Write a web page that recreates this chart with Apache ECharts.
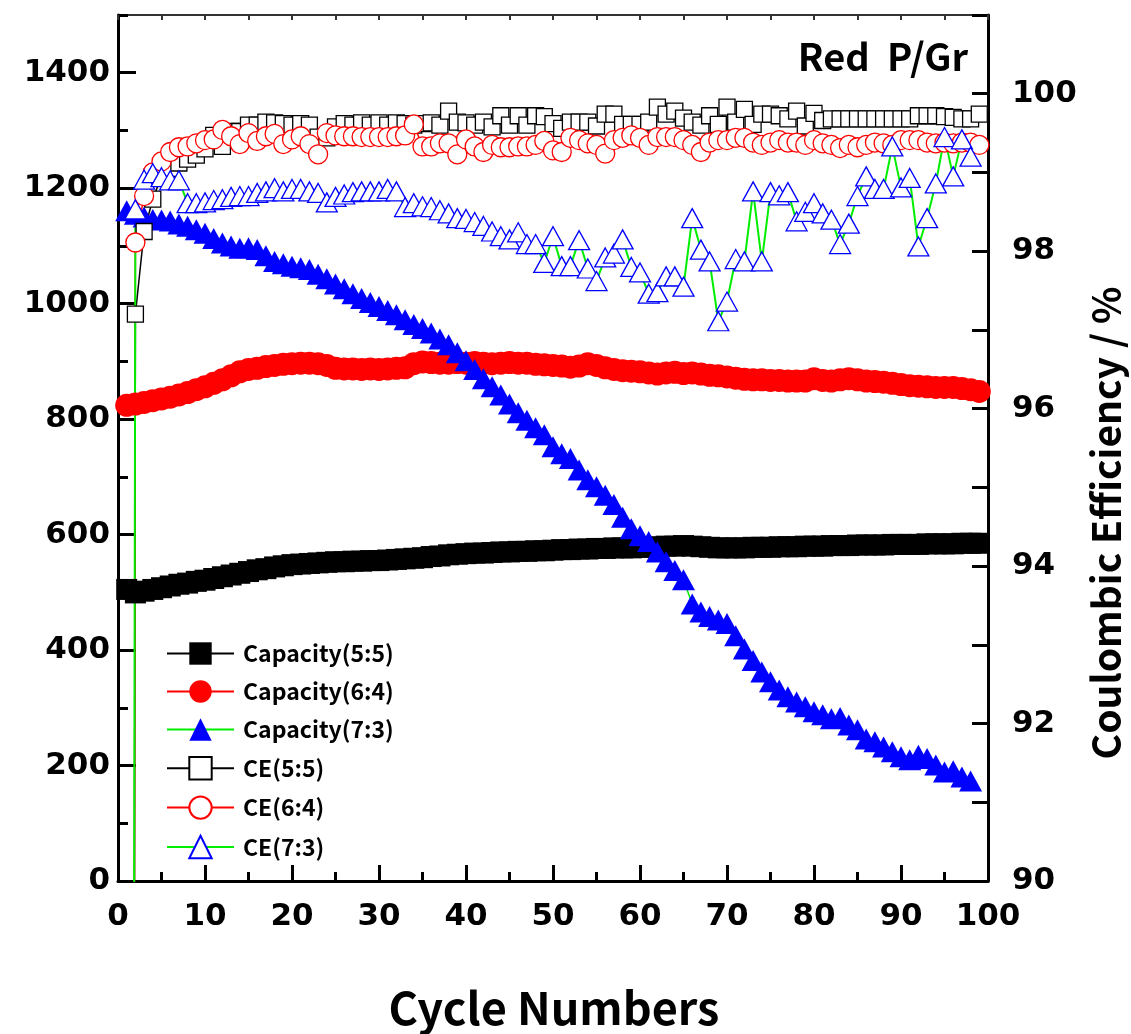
<!DOCTYPE html>
<html>
<head>
<meta charset="utf-8">
<script src="https://cdn.jsdelivr.net/npm/echarts@6/dist/echarts.min.js"></script>
<style>
html,body{margin:0;padding:0;background:#fff;}
#chart{width:1131px;height:1034px;}
</style>
</head>
<body>
<div id="chart"></div>
<script>
const cycles = [1,2,3,4,5,6,7,8,9,10,11,12,13,14,15,16,17,18,19,20,21,22,23,24,25,26,27,28,29,30,31,32,33,34,35,36,37,38,39,40,41,42,43,44,45,46,47,48,49,50,51,52,53,54,55,56,57,58,59,60,61,62,63,64,65,66,67,68,69,70,71,72,73,74,75,76,77,78,79,80,81,82,83,84,85,86,87,88,89,90,91,92,93,94,95,96,97,98,99];

const capacity55 = [505,499,502,505,508,511,514,516,519,521,
 524,527,530,533,536,539,541,544,546,548,
 549,550,551,552,553,553,554,554,555,555,
 556,557,558,559,560,562,563,565,566,567,
 568,568,569,570,570,571,571,572,572,573,
 574,574,575,575,576,576,577,577,577,578,
 578,579,580,580,581,580,579,578,577,577,
 577,577,578,578,578,579,579,579,580,580,
 580,581,581,581,582,582,582,582,583,583,
 583,583,584,584,584,584,585,585,585];

const capacity64 = [824,826,829,832,835,838,842,846,851,856,
 862,868,875,882,886,888,891,893,895,896,
 897,897,896,893,888,887,887,886,887,886,
 887,888,889,896,899,898,897,897,898,897,
 898,897,896,897,898,897,897,895,894,893,
 892,890,892,896,893,889,886,884,883,882,
 880,878,880,881,879,880,878,876,875,873,
 871,869,868,868,867,867,866,866,866,870,
 867,866,868,870,868,866,865,864,862,860,
 858,857,856,855,855,855,853,851,848];

const capacity73 = [1161,1155,1150,1146,1145,1143,1138,1134,1128,1122,
 1113,1105,1100,1096,1097,1094,1083,1073,1069,1065,
 1062,1059,1051,1043,1034,1026,1017,1009,1002,995,
 988,981,972,964,957,949,939,929,915,901,
 886,870,856,842,826,811,798,785,773,752,
 740,732,712,695,683,668,652,630,610,598,
 588,570,553,538,522,480,466,458,452,446,
 425,402,382,362,345,331,319,310,302,293,
 288,281,283,270,262,246,241,232,224,215,
 210,218,212,201,189,191,180,173];

const ce55 = [30,97.2,98.25,98.66,98.95,99.05,99.12,99.17,99.22,99.3,
 99.47,99.33,99.52,99.52,99.6,99.6,99.64,99.63,99.62,99.6,
 99.62,99.6,99.45,99.44,99.58,99.62,99.6,99.63,99.6,99.63,
 99.6,99.63,99.62,99.6,99.62,99.63,99.6,99.78,99.64,99.63,
 99.6,99.64,99.58,99.72,99.6,99.72,99.6,99.72,99.71,99.62,
 99.56,99.64,99.64,99.64,99.59,99.74,99.74,99.61,99.61,99.61,
 99.64,99.83,99.74,99.78,99.69,99.64,99.6,99.72,99.61,99.83,
 99.64,99.8,99.61,99.74,99.74,99.72,99.68,99.78,99.59,99.75,
 99.66,99.68,99.68,99.68,99.68,99.68,99.68,99.68,99.68,99.68,
 99.68,99.72,99.72,99.72,99.71,99.7,99.68,99.68,99.74];

const ce64 = [20,98.11,98.7,99.0,99.14,99.26,99.32,99.33,99.37,99.41,
 99.42,99.54,99.46,99.36,99.5,99.4,99.46,99.49,99.36,99.42,
 99.46,99.36,99.23,99.5,99.47,99.46,99.46,99.45,99.45,99.45,
 99.45,99.46,99.47,99.61,99.33,99.33,99.37,99.37,99.23,99.42,
 99.33,99.26,99.35,99.32,99.32,99.33,99.33,99.35,99.4,99.28,
 99.26,99.44,99.41,99.37,99.35,99.24,99.41,99.44,99.47,99.44,
 99.35,99.45,99.45,99.45,99.41,99.35,99.26,99.38,99.41,99.41,
 99.44,99.44,99.38,99.35,99.38,99.41,99.38,99.38,99.35,99.41,
 99.37,99.35,99.31,99.35,99.32,99.35,99.38,99.37,99.35,99.41,
 99.41,99.41,99.38,99.37,99.38,99.37,99.38,99.38,99.35];

const ce73 = [40,98.53,98.91,98.99,98.94,98.9,98.9,98.61,98.61,98.62,
 98.65,98.66,98.69,98.7,98.7,98.74,98.76,98.8,98.76,98.79,
 98.79,98.76,98.74,98.62,98.69,98.72,98.75,98.76,98.76,98.76,
 98.79,98.76,98.56,98.61,98.57,98.56,98.52,98.48,98.42,98.41,
 98.37,98.32,98.25,98.19,98.15,98.24,98.09,98.09,97.85,98.19,
 97.81,97.81,98.14,97.78,97.62,97.92,97.97,98.15,97.8,97.73,
 97.46,97.48,97.68,97.68,97.55,98.42,98.02,97.87,97.11,97.36,
 97.9,97.87,98.76,97.87,98.75,98.71,98.75,98.38,98.5,98.61,
 98.48,98.4,98.09,98.35,98.7,98.95,98.79,98.79,99.33,98.81,
 98.93,98.06,98.42,98.86,99.45,98.95,99.42,99.2];

const seriesNames = ['Capacity(5:5)','Capacity(6:4)','Capacity(7:3)','CE(5:5)','CE(6:4)','CE(7:3)'];
const titleText = 'Red  P/Gr';
const xTitle = 'Cycle Numbers';
const yRightTitle = 'Coulombic Efficiency / %';

function pairs(vals){ return vals.map((v,i)=>[cycles[i], v]); }

const tickFont = {fontSize:31, fontWeight:'bold', fontFamily:'DejaVu Sans', color:'#000'};
const nameFont = '"Noto Sans CJK KR"';

const chart = echarts.init(document.getElementById('chart'), null, {renderer:'canvas'});
chart.setOption({
  animation:false,
  backgroundColor:'#fff',
  grid:{left:118, right:143, top:15, bottom:153, containLabel:false},
  xAxis:[
    {type:'value', min:0, max:100, interval:10, position:'bottom',
     axisLine:{show:true, onZero:false, lineStyle:{color:'#000', width:3}},
     axisTick:{show:true, inside:true, length:16, lineStyle:{color:'#000', width:3}},
     minorTick:{show:true, splitNumber:2, length:9, lineStyle:{color:'#000', width:3}},
     splitLine:{show:false},
     axisLabel:Object.assign({margin:20, formatter:v=>String(v)}, tickFont)},
    {type:'value', min:0, max:100, interval:5, position:'top',
     axisLine:{show:true, onZero:false, lineStyle:{color:'#333', width:2}},
     axisTick:{show:true, inside:true, length:5, lineStyle:{color:'#333', width:2}},
     axisLabel:{show:false}, splitLine:{show:false}}
  ],
  yAxis:[
    {type:'value', min:0, max:1500, interval:200, position:'left',
     axisLine:{show:true, onZero:false, lineStyle:{color:'#000', width:3}},
     axisTick:{show:true, inside:true, length:18, lineStyle:{color:'#000', width:3}},
     splitLine:{show:false},
     axisLabel:Object.assign({margin:8, showMaxLabel:false, formatter:v=>String(v)}, tickFont)},
    {type:'value', min:0, max:1500, interval:100, position:'left',
     axisLine:{show:false},
     axisTick:{show:true, inside:true, length:10, lineStyle:{color:'#000', width:3}},
     splitLine:{show:false}, axisLabel:{show:false}},
    {type:'value', min:90, max:101, interval:1, position:'right',
     axisLine:{show:true, onZero:false, lineStyle:{color:'#000', width:3}},
     axisTick:{show:true, inside:true, length:16, lineStyle:{color:'#000', width:3}},
     splitLine:{show:false},
     axisLabel:Object.assign({margin:24, formatter:v=>(v%2===0 && v<=100)?String(v):''}, tickFont)}
  ],
  legend:{
    orient:'vertical', left:161, top:637, itemWidth:67, itemHeight:28, itemGap:15,
    textStyle:{fontSize:23, fontWeight:'bold', fontFamily:'Noto Sans CJK KR', color:'#000', padding:[0,0,0,4]},
    data:seriesNames
  },
  graphic:[
    {type:'text', right:163, top:38, style:{text:titleText, font:'bold 38px ' + nameFont, fill:'#000'}},
    {type:'text', x:554, y:1008, style:{text:xTitle, font:'bold 45px ' + nameFont, fill:'#000', textAlign:'center', textVerticalAlign:'middle'}},
    {type:'text', x:1106, y:523, rotation:Math.PI/2, style:{text:yRightTitle, font:'bold 39px ' + nameFont, fill:'#000', textAlign:'center', textVerticalAlign:'middle'}}
  ],
  series:[
    {name:seriesNames[0], type:'line', xAxisIndex:0, yAxisIndex:0, data:pairs(capacity55),
     symbol:'rect', symbolSize:21, itemStyle:{color:'#000'}, lineStyle:{color:'#000', width:1.5}},
    {name:seriesNames[1], type:'line', xAxisIndex:0, yAxisIndex:0, data:pairs(capacity64),
     symbol:'circle', symbolSize:23, itemStyle:{color:'#ff0000'}, lineStyle:{color:'#ff0000', width:1.5}},
    {name:seriesNames[2], type:'line', xAxisIndex:0, yAxisIndex:0, data:pairs(capacity73),
     symbol:'triangle', symbolSize:[23,21], itemStyle:{color:'#0000ff'}, lineStyle:{color:'#00ee00', width:1.5}},
    {name:seriesNames[3], type:'line', xAxisIndex:0, yAxisIndex:2, data:pairs(ce55),
     symbol:'rect', symbolSize:16, itemStyle:{color:'#fff', borderColor:'#000', borderWidth:1.3}, lineStyle:{color:'#000', width:1.5}},
    {name:seriesNames[4], type:'line', xAxisIndex:0, yAxisIndex:2, data:pairs(ce64),
     symbol:'circle', symbolSize:19, itemStyle:{color:'#fff', borderColor:'#ff0000', borderWidth:1.3}, lineStyle:{color:'#ff0000', width:1.5}},
    {name:seriesNames[5], type:'line', xAxisIndex:0, yAxisIndex:2, data:pairs(ce73),
     symbol:'triangle', symbolSize:[21,19], itemStyle:{color:'#fff', borderColor:'#0000ff', borderWidth:1.3}, lineStyle:{color:'#00ee00', width:2}}
  ]
});
</script>
</body>
</html>
